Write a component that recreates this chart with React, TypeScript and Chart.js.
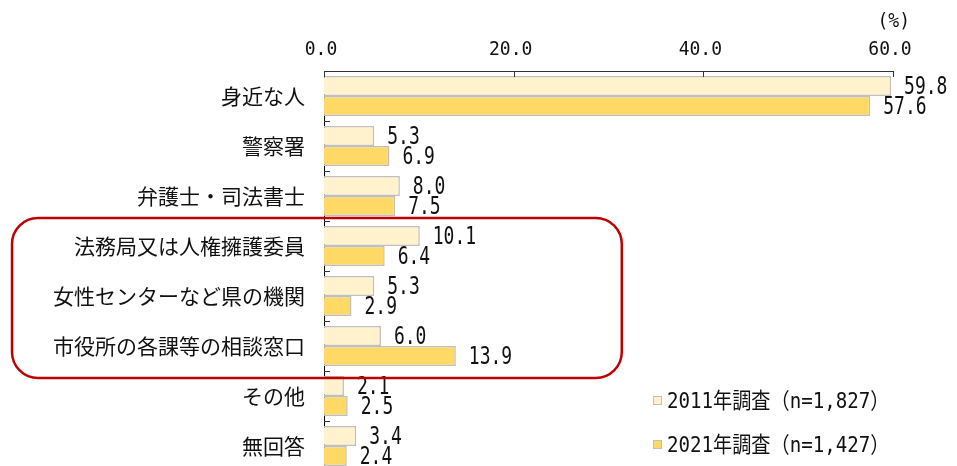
import React, { useEffect, useRef } from "react";
import { Chart, registerables } from "chart.js";

Chart.register(...registerables);

const categories = [
  "身近な人",
  "警察署",
  "弁護士・司法書士",
  "法務局又は人権擁護委員",
  "女性センターなど県の機関",
  "市役所の各課等の相談窓口",
  "その他",
  "無回答",
];
const series2011 = [59.8, 5.3, 8.0, 10.1, 5.3, 6.0, 2.1, 3.4];
const series2021 = [57.6, 6.9, 7.5, 6.4, 2.9, 13.9, 2.5, 2.4];
const seriesNames = ["2011年調査（n=1,827）", "2021年調査（n=1,427）"];
const xTickValues = [0, 20, 40, 60];
const unitLabel = "(%)";
const highlightFirst = 3;
const highlightLast = 5;

const MONO = "'DejaVu Sans Mono', 'Noto Sans CJK JP', monospace";
const JP_FONT = "'Noto Sans CJK JP', sans-serif";
const COLOR_2011 = "#FFF2CC";
const COLOR_2021 = "#FFD966";
const BAR_BORDER = "#BFBFBF";
const TEXT = "#111111";

function scaledText(
  ctx: CanvasRenderingContext2D,
  text: string,
  x: number,
  y: number,
  sx: number,
  align: "left" | "center" | "right"
) {
  ctx.save();
  ctx.translate(x, y);
  ctx.scale(sx, 1);
  ctx.textAlign = align;
  ctx.fillText(text, 0, 0);
  ctx.restore();
}

const overlayPlugin = {
  id: "overlay",
  afterDatasetsDraw(chart: any) {
    const ctx = chart.ctx;
    ctx.save();
    ctx.fillStyle = TEXT;
    ctx.font = `25px ${MONO}`;
    ctx.textBaseline = "middle";
    chart.data.datasets.forEach((ds: any, di: number) => {
      const meta = chart.getDatasetMeta(di);
      meta.data.forEach((el: any, i: number) => {
        const v = ds.data[i];
        scaledText(ctx, v.toFixed(1), el.x + 13, el.y + 1, 0.72, "left");
      });
    });
    ctx.restore();
  },
  afterDraw(chart: any) {
    const ctx = chart.ctx;
    const area = chart.chartArea;
    const xs = chart.scales.x;
    const ys = chart.scales.y;
    const step = ys.getPixelForValue(1) - ys.getPixelForValue(0);
    ctx.save();
    // x tick labels
    ctx.fillStyle = TEXT;
    ctx.font = `20px ${MONO}`;
    ctx.textBaseline = "alphabetic";
    xTickValues.forEach((v) => {
      const px = xs.getPixelForValue(v);
      scaledText(ctx, v.toFixed(1), px - 3, area.top - 16, 0.9, "center");
    });
    // inner ticks on x axis
    ctx.strokeStyle = "#333";
    ctx.lineWidth = 1;
    xTickValues.forEach((v) => {
      const px = Math.round(xs.getPixelForValue(v)) + 0.5;
      ctx.beginPath();
      ctx.moveTo(px, area.top);
      ctx.lineTo(px, area.top + 6);
      ctx.stroke();
    });
    // inner ticks on y axis at category boundaries
    for (let i = 0; i <= categories.length; i++) {
      const py = Math.round(ys.getPixelForValue(i) - step / 2) + 0.5;
      ctx.beginPath();
      ctx.moveTo(area.left, py);
      ctx.lineTo(area.left + 6, py);
      ctx.stroke();
    }
    // unit label
    ctx.font = `19px ${MONO}`;
    ctx.textBaseline = "middle";
    scaledText(ctx, unitLabel, area.right + 17, 22, 0.95, "right");

    // red rounded highlight box
    const top = ys.getPixelForValue(highlightFirst) - step / 2 - 3;
    const bottom = ys.getPixelForValue(highlightLast) + step / 2 + 7;
    const left = 12;
    const right = xs.getPixelForValue(31.4);
    const r = 26;
    ctx.strokeStyle = "#C00000";
    ctx.lineWidth = 2.5;
    ctx.beginPath();
    ctx.moveTo(left + r, top);
    ctx.lineTo(right - r, top);
    ctx.arcTo(right, top, right, top + r, r);
    ctx.lineTo(right, bottom - r);
    ctx.arcTo(right, bottom, right - r, bottom, r);
    ctx.lineTo(left + r, bottom);
    ctx.arcTo(left, bottom, left, bottom - r, r);
    ctx.lineTo(left, top + r);
    ctx.arcTo(left, top, left + r, top, r);
    ctx.closePath();
    ctx.stroke();

    // legend
    const lx = area.left + 329;
    const ly0 = ys.getPixelForValue(6) + 5;
    const colors = [COLOR_2011, COLOR_2021];
    ctx.font = `22px ${MONO}`;
    ctx.textBaseline = "middle";
    seriesNames.forEach((name, i) => {
      const ly = ly0 + i * 44;
      ctx.fillStyle = colors[i];
      ctx.fillRect(lx, ly - 5, 9, 9);
      ctx.strokeStyle = BAR_BORDER;
      ctx.lineWidth = 1;
      ctx.strokeRect(lx + 0.5, ly - 4.5, 8, 8);
      ctx.fillStyle = TEXT;
      scaledText(ctx, name, lx + 14, ly + 1, 0.87, "left");
    });
    ctx.restore();
  },
};

export default function App() {
  const ref = useRef<HTMLCanvasElement | null>(null);
  useEffect(() => {
    if (!ref.current) return;
    const chart = new Chart(ref.current, {
      type: "bar",
      data: {
        labels: categories,
        datasets: [
          {
            label: seriesNames[0],
            data: series2011,
            backgroundColor: COLOR_2011,
            borderColor: BAR_BORDER,
            borderWidth: 1.5,
            categoryPercentage: 0.8,
            barPercentage: 1.0,
          },
          {
            label: seriesNames[1],
            data: series2021,
            backgroundColor: COLOR_2021,
            borderColor: BAR_BORDER,
            borderWidth: 1.5,
            categoryPercentage: 0.8,
            barPercentage: 1.0,
          },
        ],
      },
      options: {
        indexAxis: "y",
        responsive: true,
        maintainAspectRatio: false,
        animation: false,
        devicePixelRatio: 1,
        layout: { padding: { top: 0, right: 64, bottom: 5, left: 0 } },
        plugins: {
          legend: { display: false },
          tooltip: { enabled: false },
        },
        scales: {
          x: {
            position: "top",
            min: 0,
            max: 60,
            afterFit: (s: any) => {
              s.height = 71;
              s.paddingLeft = 0;
              s.paddingRight = 0;
            },
            afterBuildTicks: (s: any) => {
              s.ticks = xTickValues.map((v) => ({ value: v }));
            },
            grid: { display: false, drawTicks: false },
            border: { display: true, color: "#333", width: 1 },
            ticks: { display: false },
          },
          y: {
            afterFit: (s: any) => {
              s.width = 324;
              s.paddingTop = 0;
              s.paddingBottom = 0;
            },
            grid: { display: false, drawTicks: false },
            border: { display: true, color: "#000", width: 1 },
            ticks: {
              padding: 19,
              color: TEXT,
              autoSkip: false,
              font: { family: JP_FONT, size: 21 },
            },
          },
        },
      },
      plugins: [overlayPlugin],
    } as any);
    return () => chart.destroy();
  }, []);

  return (
    <div
      style={{
        position: "fixed",
        left: 0,
        top: 0,
        width: 957,
        height: 466,
        overflow: "hidden",
        background: "#fff",
      }}
    >
      <div style={{ position: "relative", width: 957, height: 476 }}>
        <canvas ref={ref} />
      </div>
    </div>
  );
}
